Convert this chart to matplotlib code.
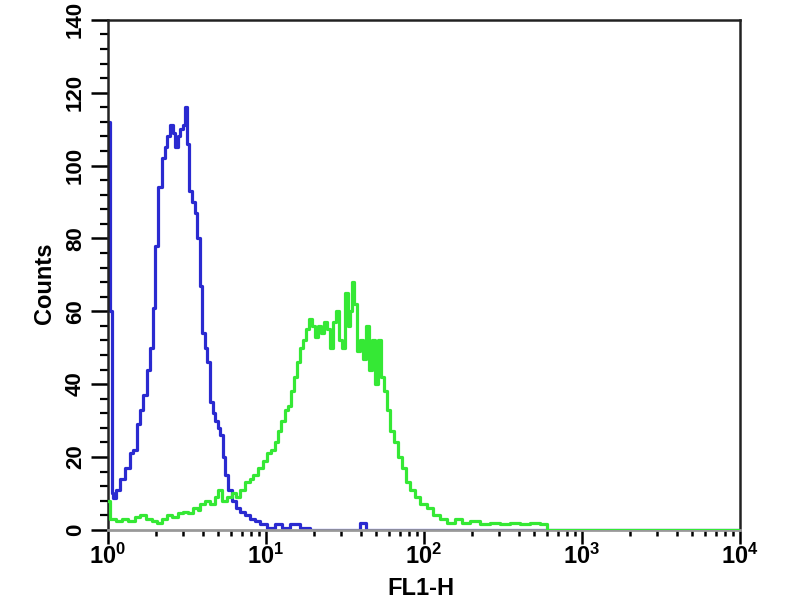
"""Flow cytometry histogram: FL1-H counts, two overlaid samples"""
import numpy as np
import matplotlib
matplotlib.use("Agg")
import matplotlib.pyplot as plt
from matplotlib.ticker import MultipleLocator, LogLocator, NullFormatter

# log10(FL1-H) channel starts and counts
blue_log = [0.000, 0.013, 0.025, 0.032, 0.051, 0.076, 0.108, 0.139, 0.158, 0.184,
            0.203, 0.222, 0.247, 0.266, 0.285, 0.297, 0.316, 0.342, 0.361, 0.373,
            0.392, 0.411, 0.424, 0.443, 0.456, 0.475, 0.487, 0.500, 0.513, 0.532,
            0.551, 0.563, 0.582, 0.595, 0.614, 0.627, 0.646, 0.665, 0.677, 0.696,
            0.709, 0.728, 0.741, 0.759, 0.785, 0.810, 0.835, 0.867, 0.899, 0.930,
            0.962, 1.006, 1.057, 1.101, 1.152, 1.215, 1.278, 1.595, 1.633, 4.000]
blue_counts = [112, 60, 10, 8.6, 11, 14, 17, 21, 22, 29,
               33, 37, 44, 50, 61, 78, 94, 102, 105, 108,
               111, 109, 105, 108, 110, 111, 116, 106, 93, 90,
               87, 80, 67, 54, 50, 46, 35, 32, 30, 28,
               26, 20, 15, 11, 8, 6, 5, 4, 3, 2.5,
               1.5, 0.5, 1.5, 0.5, 1.5, 0.5, 0, 2, 0, 0]

green_log = [0.000, 0.013, 0.051, 0.089, 0.127, 0.171, 0.203, 0.241, 0.278, 0.310,
             0.342, 0.373, 0.405, 0.443, 0.475, 0.506, 0.538, 0.570, 0.582, 0.614,
             0.646, 0.677, 0.696, 0.722, 0.753, 0.785, 0.810, 0.835, 0.867, 0.899,
             0.918, 0.949, 0.981, 1.006, 1.032, 1.057, 1.076, 1.095, 1.120, 1.139,
             1.158, 1.177, 1.196, 1.215, 1.234, 1.253, 1.272, 1.291, 1.310, 1.329,
             1.348, 1.367, 1.386, 1.405, 1.424, 1.443, 1.462, 1.481, 1.500, 1.519,
             1.532, 1.544, 1.557, 1.576, 1.595, 1.614, 1.633, 1.652, 1.671, 1.690,
             1.709, 1.728, 1.747, 1.766, 1.785, 1.810, 1.835, 1.861, 1.886, 1.911,
             1.943, 1.975, 2.019, 2.057, 2.101, 2.146, 2.196, 2.241, 2.291, 2.354,
             2.418, 2.481, 2.544, 2.608, 2.671, 2.734, 2.778, 4.000]
green_counts = [8, 3, 2.5, 3, 2.5, 3.5, 4, 3, 2.5, 2,
                3, 4, 3.5, 4.5, 5, 4.5, 6, 5.5, 7, 8,
                7, 9, 11, 8, 9, 10, 9, 11, 13, 14,
                15, 17, 19, 21, 22, 24, 27, 30, 33, 34,
                38, 42, 46, 50, 52, 55, 58, 56, 53, 56,
                54, 57, 55, 50, 57, 60, 52, 50, 65, 56,
                60, 68, 62, 49, 52, 47, 56, 44, 52, 40,
                52, 42, 38, 33, 27, 24, 20, 17, 13, 11,
                9, 7, 6, 4, 3, 2, 3, 2, 2.5, 1.5,
                2, 1.5, 2, 1.5, 2, 1.5, 0, 0]

plt.rcParams["font.family"] = ["Liberation Sans", "DejaVu Sans"]
plt.rcParams["font.weight"] = "bold"
plt.rcParams["axes.labelweight"] = "bold"
plt.rcParams["mathtext.fontset"] = "custom"
plt.rcParams["mathtext.rm"] = "Liberation Sans:bold"
plt.rcParams["mathtext.default"] = "rm"

fig = plt.figure(figsize=(8, 6), dpi=100)
ax = fig.add_axes([0.135, 0.117, 0.79, 0.85])

ax.step(10 ** np.array(blue_log), blue_counts, where="post", color="#2a2ad0", lw=2.3, zorder=2)
ax.step(10 ** np.array(green_log), green_counts, where="post", color="#35e835", lw=2.3, zorder=3)

ax.set_xscale("log")
ax.set_xlim(1, 1e4)
ax.set_ylim(0, 140)

ax.yaxis.set_major_locator(MultipleLocator(20))
ax.yaxis.set_minor_locator(MultipleLocator(4))
ax.xaxis.set_major_locator(LogLocator(base=10))
ax.xaxis.set_minor_locator(LogLocator(base=10, subs=np.arange(2, 10)))
ax.xaxis.set_minor_formatter(NullFormatter())

ax.tick_params(axis="y", which="major", direction="out", length=12, width=1.8, pad=4,
               labelsize=16, labelrotation=90)
ax.tick_params(axis="y", which="minor", direction="out", length=6, width=1.6)
ax.tick_params(axis="x", which="major", direction="out", length=10, width=1.8, pad=0, labelsize=17)
ax.tick_params(axis="x", which="minor", direction="out", length=4, width=1.8)
for lab in ax.get_yticklabels():
    lab.set_va("center")

for side in ["top", "right", "left"]:
    ax.spines[side].set_color("#222222")
    ax.spines[side].set_linewidth(1.8)
ax.spines["bottom"].set_color("#999999")
ax.spines["bottom"].set_linewidth(2)

ax.set_xlabel("FL1-H", fontsize=17, fontweight="bold")
ax.xaxis.set_label_coords(0.495, -0.116)
ax.xaxis.label.set_va("center")
ax.set_ylabel("Counts", fontsize=17, fontweight="bold")
ax.yaxis.set_label_coords(-0.1, 0.484)
ax.yaxis.label.set_va("center")

fig.savefig("out.png", dpi=100)
